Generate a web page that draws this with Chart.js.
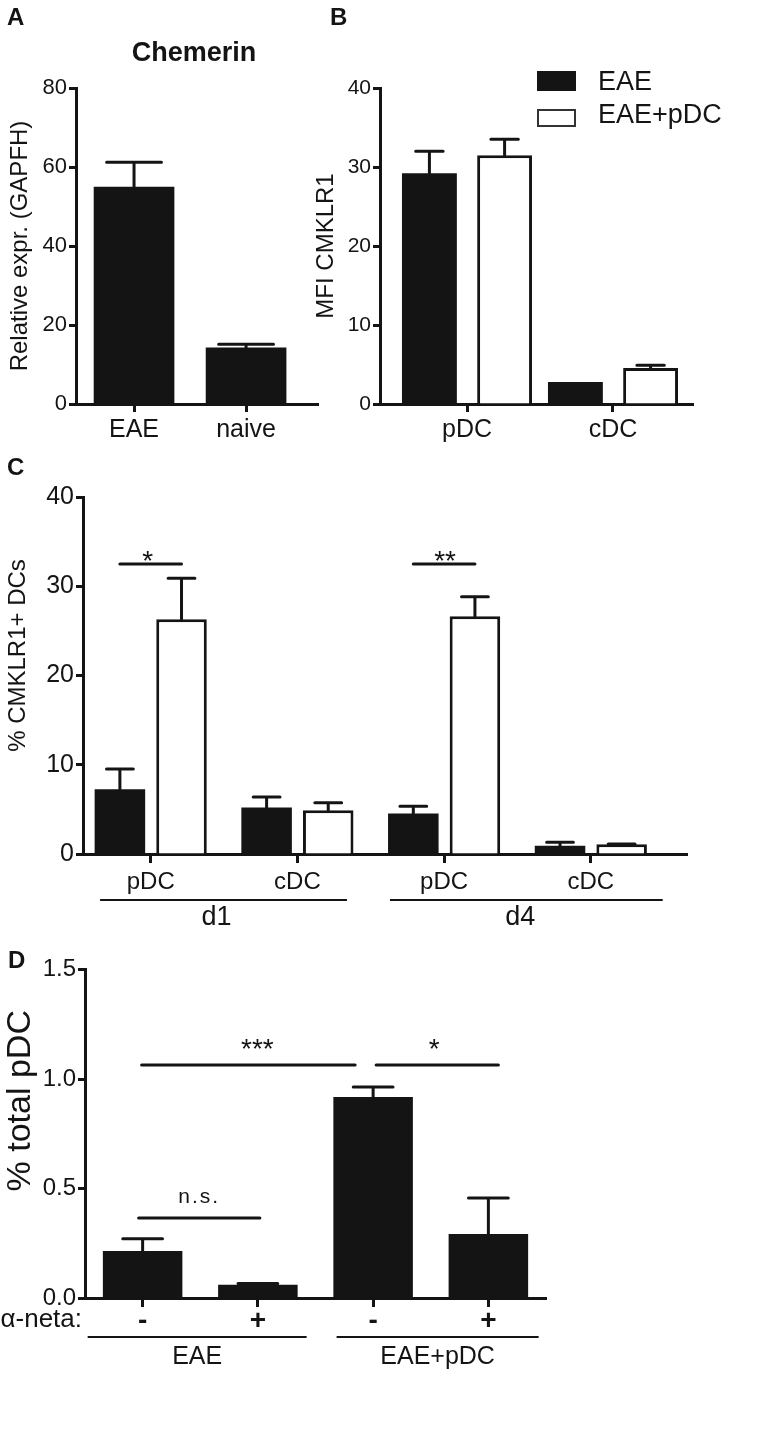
<!DOCTYPE html>
<html>
<head>
<meta charset="utf-8">
<script src="https://cdn.jsdelivr.net/npm/chart.js@4/dist/chart.umd.min.js"></script>
<style>
body { margin: 0; background: #fff; }
#fig { position: relative; width: 766px; height: 1433px; font-family: "Liberation Sans", Arial, sans-serif; color: #141414; }
#fig canvas, #fig .t { position: absolute; }
.letter { font-weight: bold; font-size: 24px; line-height: 24px; }
.key { position: absolute; left: 537px; width: 39px; box-sizing: border-box; }
.keytext { position: absolute; left: 598px; font-size: 27px; line-height: 27px; }
</style>
</head>
<body>
<div id="fig">
  <canvas id="cA" width="330" height="460" style="left:0;top:0"></canvas>
  <canvas id="cB" width="466" height="460" style="left:300px;top:0"></canvas>
  <canvas id="cC" width="766" height="480" style="left:0;top:460px"></canvas>
  <canvas id="cD" width="766" height="493" style="left:0;top:940px"></canvas>
  <div class="t letter" style="left:7px;top:5px">A</div>
  <div class="t letter" style="left:330px;top:5px">B</div>
  <div class="t letter" style="left:7px;top:455px">C</div>
  <div class="t letter" style="left:8px;top:948px">D</div>
  <div class="t" style="left:194px;top:39px;transform:translateX(-50%);font-weight:bold;font-size:27px;line-height:27px">Chemerin</div>
  <div id="legend"></div>
</div>
<script>
// panel A - chemerin expression
const chemerinLabels = ['EAE', 'naive'];
const chemerinMean = [55.0, 14.3];
const chemerinSem = [6.2, 0.8];

// panel B - MFI CMKLR1
const seriesNames = ['EAE', 'EAE+pDC'];
const mfiLabels = ['pDC', 'cDC'];
const mfiEae = [29.2, 2.8];
const mfiEaeSem = [2.8, 0];
const mfiEaePdc = [31.5, 4.55];
const mfiEaePdcSem = [2.0, 0.35];

// panel C - % CMKLR1+ DCs
const pctLabels = ['pDC', 'cDC', 'pDC', 'cDC'];
const pctDays = ['d1', 'd4'];
const pctEae = [7.25, 5.2, 4.55, 0.93];
const pctEaeSem = [2.27, 1.2, 0.8, 0.38];
const pctEaePdc = [26.3, 4.9, 26.65, 1.08];
const pctEaePdcSem = [4.6, 0.85, 2.17, 0.05];

// panel D - % total pDC
const netaLabels = ['-', '+', '-', '+'];
const netaGroups = ['EAE', 'EAE+pDC'];
const netaMean = [0.215, 0.06, 0.918, 0.292];
const netaSem = [0.055, 0.006, 0.045, 0.165];

const INK = '#141414';
const FONT = '"Liberation Sans", Arial, sans-serif';
Chart.defaults.font.family = FONT;
Chart.defaults.color = INK;

// error bars, significance bars, group labels under the axis, shifted y titles
const extras = {
  id: 'extras',
  afterDraw(chart, args, o) {
    const ctx = chart.ctx, xs = chart.scales.x, ys = chart.scales.y, area = chart.chartArea;
    ctx.save();
    ctx.strokeStyle = INK;
    ctx.fillStyle = INK;
    (o.sem || []).forEach((sem, d) => {
      const vals = chart.data.datasets[d].data;
      chart.getDatasetMeta(d).data.forEach((bar, i) => {
        if (!sem[i]) return;
        const top = ys.getPixelForValue(vals[i] + sem[i]);
        const half = bar.width * o.cap / 2;
        ctx.lineWidth = 3;
        ctx.lineCap = 'round';
        ctx.beginPath();
        ctx.moveTo(bar.x, bar.y);
        ctx.lineTo(bar.x, top);
        ctx.moveTo(bar.x - half, top);
        ctx.lineTo(bar.x + half, top);
        ctx.stroke();
      });
    });
    (o.sig || []).forEach(s => {
      const x1 = chart.getDatasetMeta(s.from[0]).data[s.from[1]].x + (s.from[2] || 0);
      const x2 = chart.getDatasetMeta(s.to[0]).data[s.to[1]].x + (s.to[2] || 0);
      const y = ys.getPixelForValue(s.at);
      ctx.lineWidth = 3;
      ctx.lineCap = 'round';
      ctx.beginPath();
      ctx.moveTo(x1, y);
      ctx.lineTo(x2, y);
      ctx.stroke();
      ctx.font = s.font;
      ctx.textAlign = 'center';
      ctx.textBaseline = 'alphabetic';
      ctx.letterSpacing = s.spacing || '0px';
      ctx.fillText(s.text, (x1 + x2) / 2 + (s.dx || 0), y + s.dy);
      ctx.letterSpacing = '0px';
    });
    if (o.groups) {
      const step = xs.getPixelForValue(1) - xs.getPixelForValue(0);
      o.groups.forEach(g => {
        const x1 = xs.getPixelForValue(g.from) - g.padL * step;
        const x2 = xs.getPixelForValue(g.to) + g.padR * step;
        const y = area.bottom + o.groupLine;
        ctx.lineWidth = 2;
        ctx.lineCap = 'butt';
        ctx.beginPath();
        ctx.moveTo(x1, y);
        ctx.lineTo(x2, y);
        ctx.stroke();
        ctx.font = o.groupFont;
        ctx.textAlign = 'center';
        ctx.textBaseline = 'middle';
        ctx.fillText(g.text, (x1 + x2) / 2 + (g.dx || 0), area.bottom + o.groupText);
      });
    }
    if (o.side) {
      ctx.font = o.side.font;
      ctx.textAlign = 'right';
      ctx.textBaseline = 'middle';
      ctx.fillText(o.side.text, area.left + o.side.dx, area.bottom + o.side.dy);
    }
    if (o.yTitle) {
      const t = o.yTitle;
      ctx.translate(t.x, (area.top + area.bottom) / 2 + t.dy);
      ctx.rotate(-Math.PI / 2);
      ctx.font = t.font;
      ctx.textAlign = 'center';
      ctx.textBaseline = 'middle';
      ctx.fillText(t.text, 0, 0);
    }
    ctx.restore();
  }
};
Chart.register(extras);

function catAxis(start, range, h, font, tickLength, padding) {
  return {
    type: 'category',
    offset: true,
    afterBuildTicks: s => { s._startValue = start; s._valueRange = range; },
    afterFit: s => { s.height = h; },
    grid: { display: true, drawOnChartArea: false, offset: false, tickLength: tickLength, tickWidth: 3, tickColor: INK, color: INK },
    border: { display: true, color: INK, width: 3 },
    ticks: { color: INK, font: font, padding: padding, autoSkip: false, maxRotation: 0 }
  };
}

function valueAxis(max, step, size, w, title, titleSize, titlePad, digits) {
  return {
    min: 0, max: max,
    afterFit: s => { s.width = w; },
    grid: { display: true, drawOnChartArea: false, tickLength: 7, tickWidth: 3, tickColor: INK, color: INK },
    border: { display: true, color: INK, width: 3 },
    ticks: { stepSize: step, color: INK, font: { size: size }, padding: 2,
             callback: v => v.toFixed(digits) },
    title: { display: !!title, text: title, color: INK, font: { size: titleSize }, padding: { top: titlePad, bottom: 0 } }
  };
}

function baseOptions(padding) {
  return {
    responsive: false,
    animation: false,
    devicePixelRatio: 1,
    layout: { padding: padding },
    plugins: { legend: { display: false }, tooltip: { enabled: false } }
  };
}

function blackSet(label, data, cp, bp) {
  return { label: label, data: data, backgroundColor: INK, borderWidth: 0, categoryPercentage: cp, barPercentage: bp };
}
function whiteSet(label, data, cp, bp) {
  return { label: label, data: data, backgroundColor: '#ffffff', borderColor: INK, borderWidth: 3, categoryPercentage: cp, barPercentage: bp };
}

// A
const optA = baseOptions({ left: 0, top: 88, right: 12, bottom: 6 });
optA.scales = {
  x: catAxis(-0.518, 2.16, 50, { size: 25 }, 8, 3),
  y: valueAxis(80, 20, 22, 76, 'Relative expr. (GAPFH)', 24, 5.6, 0)
};
optA.plugins.extras = { sem: [chemerinSem], cap: 0.68 };
new Chart(document.getElementById('cA'), {
  type: 'bar',
  data: { labels: chemerinLabels, datasets: [blackSet('Chemerin', chemerinMean, 0.72, 1)] },
  options: optA
});

// B
const optB = baseOptions({ left: 0, top: 88, right: 73, bottom: 6 });
optB.scales = {
  x: catAxis(-0.596, 2.144, 50, { size: 25 }, 8, 3),
  y: valueAxis(40, 10, 21, 80, 'MFI CMKLR1', 24, 11.6, 0)
};
optB.plugins.extras = { sem: [mfiEaeSem, mfiEaePdcSem], cap: 0.5 };
new Chart(document.getElementById('cB'), {
  type: 'bar',
  data: { labels: mfiLabels, datasets: [
    blackSet(seriesNames[0], mfiEae, 1.03, 0.73),
    whiteSet(seriesNames[1], mfiEaePdc, 1.03, 0.73)
  ] },
  options: optB
});

// C
const optC = baseOptions({ left: 0, top: 37, right: 79, bottom: 36 });
optC.scales = {
  x: catAxis(-0.4615, 4.117, 50, { size: 24 }, 9, 5),
  y: valueAxis(40, 10, 25, 83, '', 24, 0, 0)
};
optC.plugins.extras = {
  sem: [pctEaeSem, pctEaePdcSem], cap: 0.53,
  sig: [
    { from: [0, 0], to: [1, 0], at: 32.5, text: '*', font: '28px ' + FONT, dy: 6, dx: -3 },
    { from: [0, 2], to: [1, 2], at: 32.5, text: '**', font: '28px ' + FONT, dy: 6, dx: 1 }
  ],
  groups: [
    { from: 0, to: 1, padL: 0.345, padR: 0.338, text: pctDays[0], dx: -7 },
    { from: 2, to: 3, padL: 0.369, padR: 0.49, text: pctDays[1], dx: -6 }
  ],
  groupLine: 46, groupText: 64, groupFont: '27px ' + FONT,
  yTitle: { text: '% CMKLR1+ DCs', font: '24px ' + FONT, x: 18, dy: -20 }
};
new Chart(document.getElementById('cC'), {
  type: 'bar',
  data: { labels: pctLabels, datasets: [
    blackSet(seriesNames[0], pctEae, 0.84, 0.82),
    whiteSet(seriesNames[1], pctEaePdc, 0.84, 0.82)
  ] },
  options: optC
});

// D
const optD = baseOptions({ left: 0, top: 29.5, right: 220, bottom: 95 });
optD.scales = {
  x: catAxis(-0.5, 4, 40, { size: 28, weight: 'bold', lineHeight: 1 }, 9, 0),
  y: valueAxis(1.5, 0.5, 24, 85, '', 33, 0, 1)
};
optD.plugins.extras = {
  sem: [netaSem], cap: 0.5,
  sig: [
    { from: [0, 0, -4], to: [0, 1, 2], at: 0.365, text: 'n.s.', font: '21px ' + FONT, dy: -15, spacing: '2px' },
    { from: [0, 0, -1], to: [0, 2, -18], at: 1.064, text: '***', font: '28px ' + FONT, dy: -7, dx: 9 },
    { from: [0, 2, 3], to: [0, 3, 10], at: 1.064, text: '*', font: '28px ' + FONT, dy: -7, dx: -3 }
  ],
  groups: [
    { from: 0, to: 1, padL: 0.477, padR: 0.423, text: netaGroups[0] },
    { from: 2, to: 3, padL: 0.317, padR: 0.436, text: netaGroups[1] }
  ],
  groupLine: 39, groupText: 59, groupFont: '25px ' + FONT,
  side: { text: '\u03b1-neta:', font: '26px ' + FONT, dx: -3, dy: 22 },
  yTitle: { text: '% total pDC', font: '34px ' + FONT, x: 21, dy: -33 }
};
new Chart(document.getElementById('cD'), {
  type: 'bar',
  data: { labels: netaLabels, datasets: [blackSet('% total pDC', netaMean, 0.69, 1)] },
  options: optD
});

// legend for panel B
const legend = document.getElementById('legend');
const keyTops = [71, 109];
const keyHeights = [20, 18];
const textTops = [67.5, 100.5];
seriesNames.forEach((name, i) => {
  const box = document.createElement('div');
  box.className = 'key';
  box.style.top = keyTops[i] + 'px';
  box.style.height = keyHeights[i] + 'px';
  box.style.background = i === 0 ? INK : '#fff';
  if (i === 1) box.style.border = '2px solid #333';
  legend.appendChild(box);
  const txt = document.createElement('div');
  txt.className = 'keytext';
  txt.style.top = textTops[i] + 'px';
  txt.textContent = name;
  legend.appendChild(txt);
});
</script>
</body>
</html>
